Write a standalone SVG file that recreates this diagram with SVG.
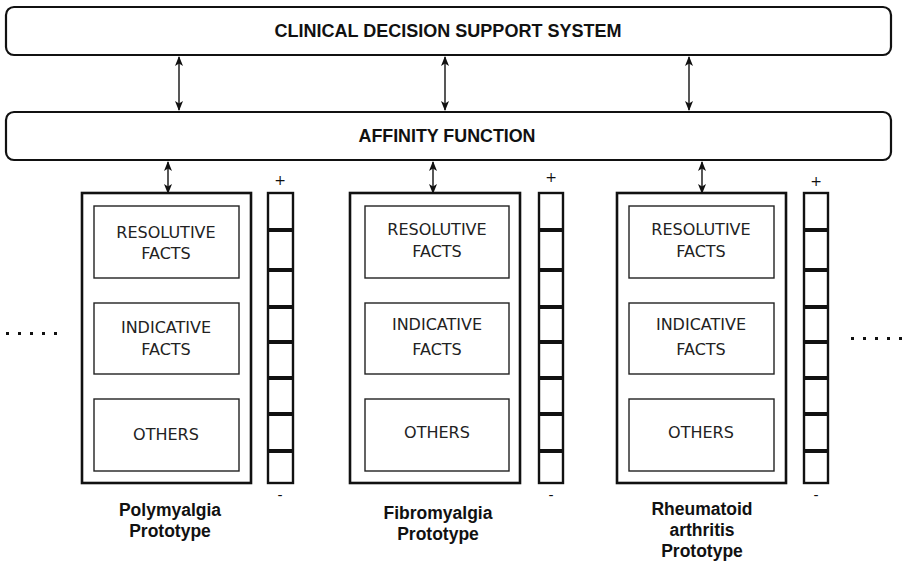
<svg xmlns="http://www.w3.org/2000/svg" width="905" height="561" viewBox="0 0 905 561">
  <defs>
    <marker id="ah" viewBox="0 0 10 8" refX="9" refY="4" markerWidth="10" markerHeight="8" markerUnits="userSpaceOnUse" orient="auto-start-reverse">
      <path d="M0,0 L10,4 L0,8 L2.5,4 Z" fill="#111"/>
    </marker>
  </defs>
  <style>
    .bar { fill: #fff; stroke: #111; stroke-width: 2.2; }
    .proto { fill: #fff; stroke: #111; stroke-width: 2.6; }
    .inner { fill: #fff; stroke: #222; stroke-width: 1.4; }
    .head { font-family: "Liberation Sans", Arial, sans-serif; font-weight: bold; font-size: 18px; fill: #111; text-anchor: middle; }
    .fact { font-family: "DejaVu Sans", Verdana, sans-serif; font-size: 16px; fill: #222; text-anchor: middle; }
    .name { font-family: "Liberation Sans", Arial, sans-serif; font-weight: bold; font-size: 17.5px; fill: #111; text-anchor: middle; }
    .sign { font-family: "DejaVu Sans", Verdana, sans-serif; font-size: 14px; fill: #111; text-anchor: middle; }
    .scale rect { fill: #fff; stroke: #111; stroke-width: 2.4; }
    .scale line { stroke: #111; stroke-width: 4; }
    .link { stroke: #111; stroke-width: 1.4; fill: none; marker-start: url(#ah); marker-end: url(#ah); }
    .dot { fill: #111; }
  </style>

  <g id="cdss">
    <rect class="bar" x="6" y="7" width="885" height="48" rx="8"/>
    <text class="head" x="448" y="37" textLength="347" lengthAdjust="spacingAndGlyphs">CLINICAL DECISION SUPPORT SYSTEM</text>
  </g>

  <g id="affinity">
    <rect class="bar" x="6" y="112" width="885" height="48" rx="8"/>
    <text class="head" x="447" y="142" textLength="177" lengthAdjust="spacingAndGlyphs">AFFINITY FUNCTION</text>
  </g>

  <g id="connectors">
    <line class="link" x1="179" y1="57" x2="179" y2="110"/>
    <line class="link" x1="445" y1="57" x2="445" y2="110"/>
    <line class="link" x1="689" y1="57" x2="689" y2="110"/>
    <line class="link" x1="168" y1="162" x2="168" y2="193"/>
    <line class="link" x1="433" y1="162" x2="433" y2="193"/>
    <line class="link" x1="702" y1="162" x2="702" y2="193"/>
  </g>

  <g id="polymyalgia">
    <rect class="proto" x="82" y="193" width="169" height="290"/>
    <rect class="inner" x="94" y="206" width="145" height="72"/>
    <text class="fact" x="166" y="238">RESOLUTIVE</text>
    <text class="fact" x="166" y="259">FACTS</text>
    <rect class="inner" x="94" y="303" width="145" height="71"/>
    <text class="fact" x="166" y="333">INDICATIVE</text>
    <text class="fact" x="166" y="355">FACTS</text>
    <rect class="inner" x="94" y="399" width="145" height="72"/>
    <text class="fact" x="166" y="440">OTHERS</text>
    <text class="name" x="170" y="516">Polymyalgia</text>
    <text class="name" x="170" y="537">Prototype</text>
  </g>

  <g id="polymyalgia-scale" class="scale">
    <rect x="268" y="193" width="25" height="290"/>
    <line x1="268" y1="230" x2="293" y2="230"/>
    <line x1="268" y1="270" x2="293" y2="270"/>
    <line x1="268" y1="307" x2="293" y2="307"/>
    <line x1="268" y1="342" x2="293" y2="342"/>
    <line x1="268" y1="378" x2="293" y2="378"/>
    <line x1="268" y1="414" x2="293" y2="414"/>
    <line x1="268" y1="451" x2="293" y2="451"/>
    <text class="sign" x="280" y="185">+</text>
    <text class="sign" x="280" y="500">-</text>
  </g>

  <g id="fibromyalgia">
    <rect class="proto" x="350" y="193" width="170" height="290"/>
    <rect class="inner" x="365" y="206" width="144" height="72"/>
    <text class="fact" x="437" y="235">RESOLUTIVE</text>
    <text class="fact" x="437" y="257">FACTS</text>
    <rect class="inner" x="365" y="303" width="144" height="71"/>
    <text class="fact" x="437" y="330">INDICATIVE</text>
    <text class="fact" x="437" y="355">FACTS</text>
    <rect class="inner" x="365" y="399" width="144" height="72"/>
    <text class="fact" x="437" y="438">OTHERS</text>
    <text class="name" x="438" y="519">Fibromyalgia</text>
    <text class="name" x="438" y="540">Prototype</text>
  </g>

  <g id="fibromyalgia-scale" class="scale">
    <rect x="539" y="193" width="24" height="290"/>
    <line x1="539" y1="230" x2="563" y2="230"/>
    <line x1="539" y1="270" x2="563" y2="270"/>
    <line x1="539" y1="307" x2="563" y2="307"/>
    <line x1="539" y1="342" x2="563" y2="342"/>
    <line x1="539" y1="378" x2="563" y2="378"/>
    <line x1="539" y1="414" x2="563" y2="414"/>
    <line x1="539" y1="451" x2="563" y2="451"/>
    <text class="sign" x="551" y="182">+</text>
    <text class="sign" x="551" y="500">-</text>
  </g>

  <g id="rheumatoid">
    <rect class="proto" x="617" y="193" width="169" height="290"/>
    <rect class="inner" x="629" y="206" width="145" height="72"/>
    <text class="fact" x="701" y="235">RESOLUTIVE</text>
    <text class="fact" x="701" y="257">FACTS</text>
    <rect class="inner" x="629" y="303" width="145" height="71"/>
    <text class="fact" x="701" y="330">INDICATIVE</text>
    <text class="fact" x="701" y="355">FACTS</text>
    <rect class="inner" x="629" y="399" width="145" height="72"/>
    <text class="fact" x="701" y="438">OTHERS</text>
    <text class="name" x="702" y="515">Rheumatoid</text>
    <text class="name" x="702" y="536">arthritis</text>
    <text class="name" x="702" y="557">Prototype</text>
  </g>

  <g id="rheumatoid-scale" class="scale">
    <rect x="804" y="193" width="24" height="290"/>
    <line x1="804" y1="230" x2="828" y2="230"/>
    <line x1="804" y1="270" x2="828" y2="270"/>
    <line x1="804" y1="307" x2="828" y2="307"/>
    <line x1="804" y1="342" x2="828" y2="342"/>
    <line x1="804" y1="378" x2="828" y2="378"/>
    <line x1="804" y1="414" x2="828" y2="414"/>
    <line x1="804" y1="451" x2="828" y2="451"/>
    <text class="sign" x="816" y="186">+</text>
    <text class="sign" x="816" y="500">-</text>
  </g>

  <g id="ellipsis-left">
    <rect class="dot" x="6" y="332" width="3" height="3"/>
    <rect class="dot" x="18" y="332" width="3" height="3"/>
    <rect class="dot" x="30" y="332" width="3" height="3"/>
    <rect class="dot" x="42" y="332" width="3" height="3"/>
    <rect class="dot" x="54" y="332" width="3" height="3"/>
  </g>
  <g id="ellipsis-right">
    <rect class="dot" x="851" y="337" width="3" height="3"/>
    <rect class="dot" x="863" y="337" width="3" height="3"/>
    <rect class="dot" x="875" y="337" width="3" height="3"/>
    <rect class="dot" x="887" y="337" width="3" height="3"/>
    <rect class="dot" x="899" y="337" width="3" height="3"/>
  </g>
</svg>
